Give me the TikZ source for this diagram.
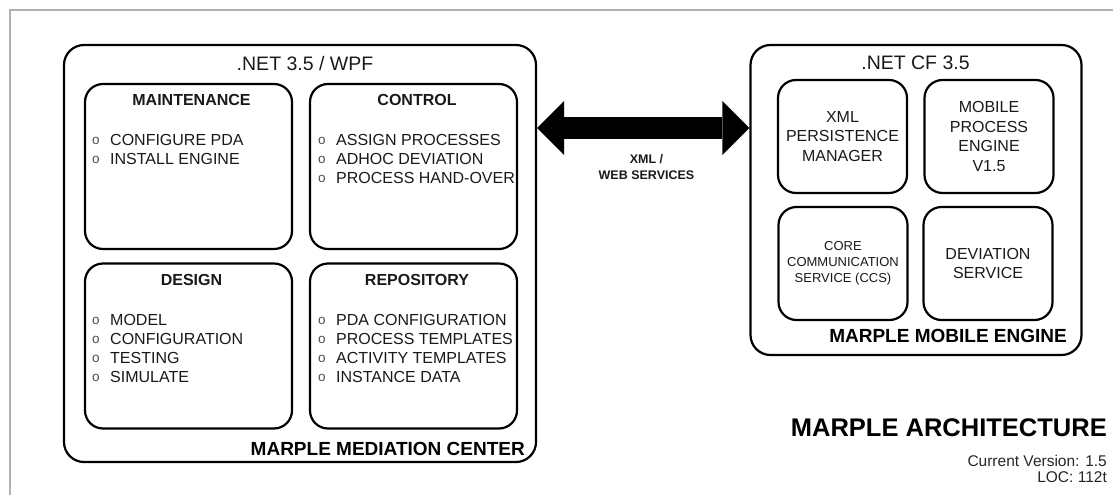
\documentclass[tikz,border=0pt]{standalone}
\usepackage{fontspec}
\setmainfont{Liberation Sans}
\usetikzlibrary{arrows.meta}
% bullet in front of each list entry
\newcommand\bul{\makebox[18pt][l]{\color{black!70}\raisebox{0.3pt}{\fontsize{13.5}{13.5}\selectfont o}}}
\begin{document}
\begin{tikzpicture}[x=1pt,y=-1pt,
  frame/.style={draw=black!30,line width=1.5pt},
  outerbox/.style={draw,line width=2.2pt,rounded corners=20pt,inner sep=0pt},
  innerbox/.style={draw,line width=2.2pt,rounded corners=18pt,inner sep=0pt,
    minimum width=207pt,minimum height=165pt},
  unitbox/.style={draw,line width=2.2pt,rounded corners=18pt,inner sep=0pt,
    minimum width=129pt,minimum height=113pt,align=center,
    font=\fontsize{16}{19.5}\selectfont,text=black!90},
  envlabel/.style={inner sep=0pt,anchor=base,font=\fontsize{19.5}{22}\selectfont,text=black!90},
  head/.style={font=\bfseries\fontsize{16}{18}\selectfont,text=black!90},
  item/.style={anchor=base west,inner sep=0pt,font=\fontsize{16}{18}\selectfont,text=black!90},
  sysname/.style={anchor=base east,inner sep=0pt,font=\bfseries\fontsize{19}{22}\selectfont},
  link/.style={line width=22pt,
    {Triangle[length=27pt,width=54pt,line width=0pt]}-{Triangle[length=27pt,width=54pt,line width=0pt]}}
]
\useasboundingbox (0,0) rectangle (1113,495);
% page frame
\draw[frame] (10,495) -- (10,10) -- (1113,10);

% ---- Marple Mediation Center ----
\node[outerbox,minimum width=472pt,minimum height=417pt] (mmc) at (300,253.5) {};
\node[envlabel] (wpf) at (305,70.5) {.NET 3.5 / WPF};
\node[innerbox] (maint) at (188.5,166.5) {};
\node[innerbox] (ctrl)  at (413.5,166.5) {};
\node[innerbox] (dsgn)  at (188.5,346) {};
\node[innerbox] (repo)  at (413.5,346) {};
\node[head] (maint-h) at (191.5,99.5) {MAINTENANCE};
\node[head] (ctrl-h)  at (417,99.5) {CONTROL};
\node[head] (dsgn-h)  at (191.5,280) {DESIGN};
\node[head] (repo-h)  at (417,280) {REPOSITORY};
\foreach \t [count=\i] in {CONFIGURE PDA,INSTALL ENGINE}
  \node[item] (maint-\i) at (92,145+19*\i-19) {\bul\t};
\foreach \t [count=\i] in {ASSIGN PROCESSES,ADHOC DEVIATION,PROCESS HAND-OVER}
  \node[item] (ctrl-\i) at (318,145+19*\i-19) {\bul\t};
\foreach \t [count=\i] in {MODEL,CONFIGURATION,TESTING,SIMULATE}
  \node[item] (dsgn-\i) at (92,325+19*\i-19) {\bul\t};
\foreach \t [count=\i] in {PDA CONFIGURATION,PROCESS TEMPLATES,ACTIVITY TEMPLATES,INSTANCE DATA}
  \node[item] (repo-\i) at (318,325+19*\i-19) {\bul\t};
\node[sysname] (mmc-name) at (525,455) {MARPLE MEDIATION CENTER};

% ---- Marple Mobile Engine ----
\node[outerbox,minimum width=331pt,minimum height=310pt] (mme) at (916,200) {};
\node[envlabel] (cf) at (915.5,70) {.NET CF 3.5};
\node[unitbox] (xml)  at (842.5,136.5) {XML\\PERSISTENCE\\MANAGER};
\node[unitbox] (mpe)  at (989,136.5) {MOBILE\\PROCESS\\ENGINE\\V1.5};
\node[unitbox,font=\fontsize{13}{16}\selectfont] (ccs) at (843,263.5) {CORE\\COMMUNICATION\\SERVICE (CCS)};
\node[unitbox] (dev)  at (988,263.5) {DEVIATION\\SERVICE};
\node[sysname] (mme-name) at (1067,342) {MARPLE MOBILE ENGINE};

% ---- link between the two systems ----
\draw[link] (mmc.east |- 0,128) -- (mme.west |- 0,128);
\node[align=center,font=\bfseries\fontsize{12.5}{16}\selectfont,text=black!90] (ws) at (646.5,167) {XML /\\WEB SERVICES};

% ---- title block ----
\node[anchor=base east,inner sep=0pt,font=\bfseries\fontsize{25.5}{30}\selectfont] (title) at (1107,436) {MARPLE ARCHITECTURE};
\node[anchor=base east,inner sep=0pt,font=\fontsize{15.5}{18}\selectfont,text=black!85] (ver) at (1107,466) {Current Version: 1.5};
\node[anchor=base east,inner sep=0pt,font=\fontsize{15.5}{18}\selectfont,text=black!85] (loc) at (1107,482.5) {LOC: 112t};
\end{tikzpicture}
\end{document}
